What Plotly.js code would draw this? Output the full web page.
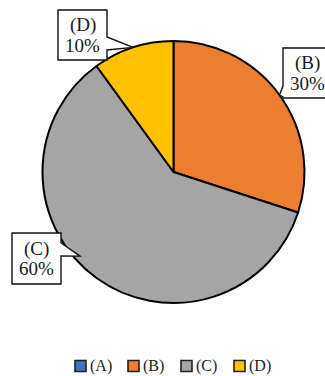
<!DOCTYPE html>
<html>
<head>
<meta charset="utf-8">
<script src="https://cdn.plot.ly/plotly-3.0.1.min.js"></script>
<style>
  html, body { margin: 0; padding: 0; background: #fff; }
  #chart { width: 325px; height: 376px; }
</style>
</head>
<body>
<div id="chart"></div>
<script>
// Share of each group, in percent
const categories = ['(A)', '(B)', '(C)', '(D)'];
const shares = [0, 30, 60, 10];
const sliceColors = ['#4472C4', '#ED7D31', '#A5A5A5', '#FFC000'];

const W = 325, H = 376;
const M = { l: 42, r: 20, t: 41, b: 73, autoexpand: false };
const plotW = W - M.l - M.r, plotH = H - M.t - M.b;
const cx = M.l + plotW / 2, cy = M.t + plotH / 2;
const R = Math.min(plotW, plotH) / 2;
const toX = p => (p - M.l) / plotW;
const toY = p => (M.t + plotH - p) / plotH;
const serif = 'Liberation Serif, Times New Roman, serif';

// Callout boxes (pixels): rectangle, side the pointer leaves from,
// pointer base span on that side, and a nudge for where the tip lands.
const callouts = {
  '(B)': { box: [283, 48, 333, 98], side: 'left', base: [86, 97], tipShift: 0, tipR: 1.0 },
  '(C)': { box: [12, 233, 61, 284], side: 'right', base: [243, 256], tipShift: 12, tipR: 0.96 },
  '(D)': { box: [58, 10, 107, 60], side: 'right', base: [37, 50], tipShift: 0, tipR: 1.0 }
};

const total = shares.reduce((a, b) => a + b, 0);
const shapes = [];
const annotations = [];
let cum = 0;
categories.forEach((cat, i) => {
  const v = shares[i];
  const c = callouts[cat];
  if (v > 0 && c) {
    const ang = ((cum + v / 2) / total * 360 + c.tipShift) * Math.PI / 180;
    const tx = cx + R * c.tipR * Math.sin(ang);
    const ty = cy - R * c.tipR * Math.cos(ang);
    const [x0, y0, x1, y1] = c.box;
    const [b0, b1] = c.base;
    let pts;
    if (c.side === 'right') {
      pts = [[x0, y0], [x1, y0], [x1, b0], [tx, ty], [x1, b1], [x1, y1], [x0, y1]];
    } else {
      pts = [[x0, y0], [x1, y0], [x1, y1], [x0, y1], [x0, b1], [tx, ty], [x0, b0]];
    }
    const path = 'M' + pts.map(p => toX(p[0]).toFixed(5) + ',' + toY(p[1]).toFixed(5)).join('L') + 'Z';
    shapes.push({
      type: 'path', xref: 'paper', yref: 'paper', path: path,
      fillcolor: '#ffffff', line: { color: '#111111', width: 1.4 }, layer: 'above'
    });
    const mx = Math.min((x0 + x1) / 2, 307);
    const my = (y0 + y1) / 2;
    [[cat, my - 10], [v + '%', my + 10]].forEach(([txt, yy]) => {
      annotations.push({
        xref: 'paper', yref: 'paper',
        x: toX(mx), y: toY(yy),
        xanchor: 'center', yanchor: 'middle', showarrow: false,
        text: txt,
        font: { family: serif, size: 19, color: '#1a1a1a' }
      });
    });
  }
  cum += v;
});

// Legend row under the pie: swatch + label for every group
const legendY = 366, legendX0 = 75, legendPitch = 53, sw = 11;
categories.forEach((cat, i) => {
  const lx = legendX0 + i * legendPitch;
  shapes.push({
    type: 'rect', xref: 'paper', yref: 'paper',
    x0: toX(lx), x1: toX(lx + sw), y0: toY(legendY + sw / 2), y1: toY(legendY - sw / 2),
    fillcolor: sliceColors[i], line: { color: '#222222', width: 1.6 }, layer: 'above'
  });
  annotations.push({
    xref: 'paper', yref: 'paper',
    x: toX(lx + sw + 2), y: toY(legendY),
    xanchor: 'left', yanchor: 'middle', showarrow: false,
    text: cat,
    font: { family: serif, size: 16, color: '#222' }
  });
});

const data = [{
  type: 'pie',
  labels: categories,
  values: shares,
  sort: false,
  direction: 'clockwise',
  rotation: 0,
  textinfo: 'none',
  hoverinfo: 'label+percent',
  marker: { colors: sliceColors, line: { color: '#000000', width: 2 } },
  domain: { x: [0, 1], y: [0, 1] }
}];

const layout = {
  width: W, height: H,
  margin: M,
  paper_bgcolor: '#ffffff',
  showlegend: false,
  shapes: shapes,
  annotations: annotations
};

Plotly.newPlot('chart', data, layout, { displayModeBar: false, staticPlot: true });
</script>
</body>
</html>
